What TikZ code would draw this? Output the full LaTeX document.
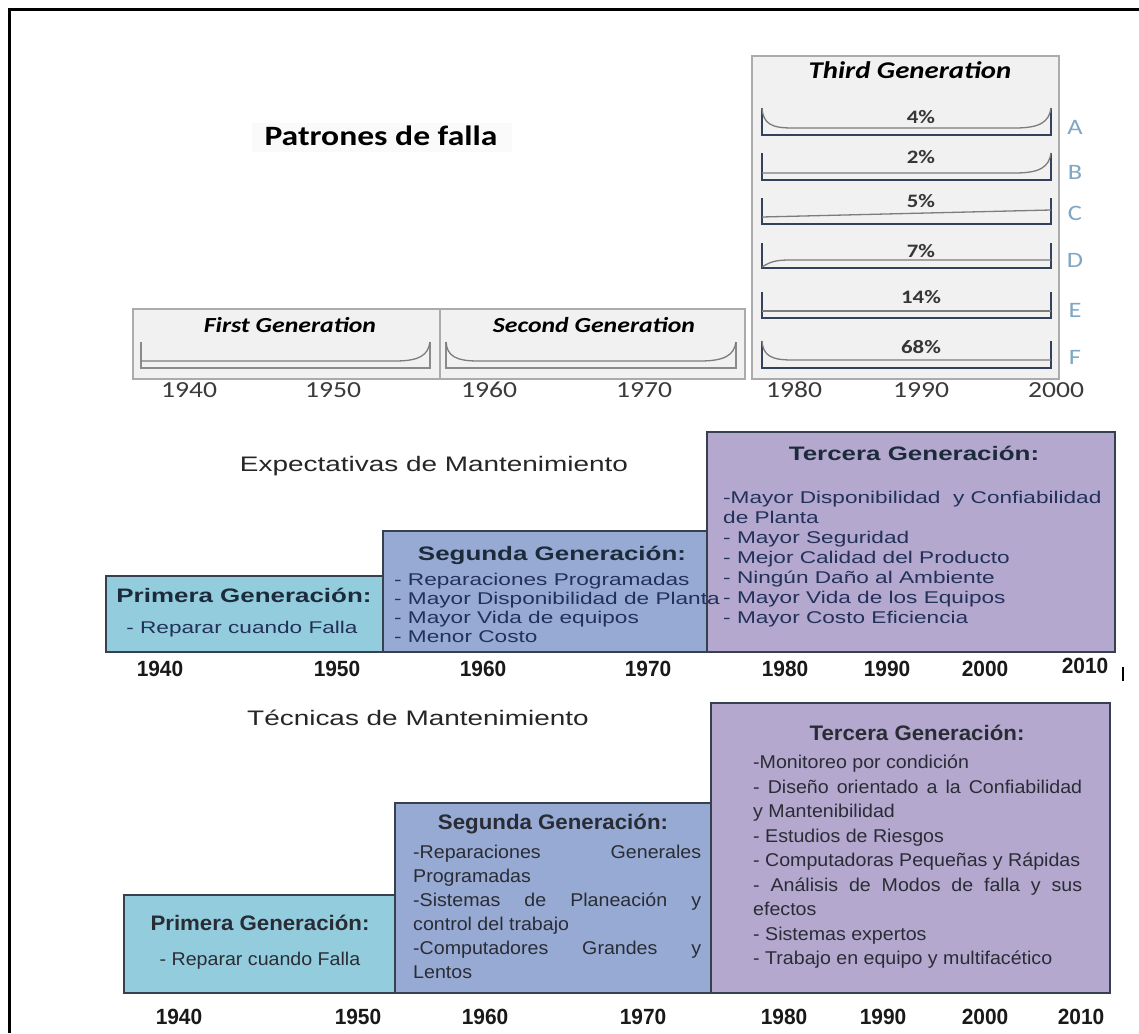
\documentclass[tikz,border=0pt]{standalone}
\usepackage{fontspec}
% Type faces: Carlito for the failure-pattern chart, Liberation Sans for the two slides
\newfontfamily\calF[FakeStretch=1.2]{Carlito}
\newfontfamily\midF[FakeStretch=1.33]{Liberation Sans}
\newfontfamily\lowF[FakeStretch=1.06]{Liberation Sans}
\newfontfamily\yrF[FakeStretch=0.95]{Liberation Sans}

\definecolor{topfill}{HTML}{F1F1F1}
\definecolor{topedge}{HTML}{ABABAB}
\definecolor{axiscol}{HTML}{34415C}
\definecolor{grayaxis}{HTML}{8A8A8A}
\definecolor{curvecol}{HTML}{7C7C7C}
\definecolor{pctcol}{HTML}{363636}
\definecolor{lettercol}{HTML}{7FA6C2}
\definecolor{yearcol}{HTML}{3A3A3A}
\definecolor{primfill}{HTML}{93CDDD}
\definecolor{segfill}{HTML}{97AAD3}
\definecolor{terfill}{HTML}{B4A8CF}
\definecolor{boxedge}{HTML}{36404E}
\definecolor{midtitle}{HTML}{1C2B3B}
\definecolor{miditem}{HTML}{22315A}
\definecolor{lowtext}{HTML}{2A2C35}

\tikzset{
  topbox/.style={draw=topedge, fill=topfill, line width=1.5pt},
  axisline/.style={draw=axiscol, line width=2.2pt},
  grayline/.style={draw=grayaxis, line width=2pt},
  patline/.style={draw=curvecol, line width=1.3pt},
  genbox/.style={draw=boxedge, line width=2.2pt},
  gentitle/.style={inner sep=0pt, font=\calF\fontsize{21.5}{24}\selectfont\bfseries\itshape},
  pct/.style={inner sep=0pt, text=pctcol, font=\calF\fontsize{19}{22}\selectfont\bfseries},
  rowletter/.style={inner sep=0pt, text=lettercol, font=\calF\fontsize{22}{24}\selectfont},
  topyear/.style={inner sep=0pt, text=yearcol, anchor=base, font=\calF\fontsize{23}{26}\selectfont},
  midhead/.style={inner sep=0pt, anchor=base, text=midtitle, font=\midF\fontsize{19.5}{22}\selectfont\bfseries},
  miditem/.style={inner sep=0pt, anchor=base west, text=miditem, font=\midF\fontsize{17}{20}\selectfont},
  lowhead/.style={inner sep=0pt, anchor=base, text=lowtext, font=\lowF\fontsize{21}{24}\selectfont\bfseries},
  lowitem/.style={inner sep=0pt, anchor=base west, text=lowtext, font=\lowF\fontsize{18.5}{22}\selectfont},
  secttitle/.style={inner sep=0pt, anchor=base, text=black!85, font=\midF\fontsize{21}{24}\selectfont},
  yearlbl/.style={inner sep=0pt, anchor=base, text=black!90, font=\yrF\fontsize{22}{24}\selectfont\bfseries}
}

\begin{document}
\begin{tikzpicture}[x=1pt,y=-1pt]
\useasboundingbox (0,0) rectangle (1139,1033);
\fill[white] (0,0) rectangle (1139,1033);

% outer frame (left and top edges)
\draw[line width=3pt] (9,1033) -- (9,10) -- (1139,10);

% ---------------- Patrones de falla ----------------
\fill[black!2] (252,123) rectangle (512,152);
\node[inner sep=0pt, anchor=base, font=\calF\fontsize{28}{30}\selectfont\bfseries] (pf) at (381,145) {Patrones de falla};

% first and second generation panels
\draw[topbox] (133,309) rectangle (440,379);
\draw[topbox] (440,309) rectangle (745,379);
\node[gentitle] (g1) at (290,325) {First Generation};
\node[gentitle] (g2) at (594,325) {Second Generation};

\draw[grayline] (141,342) -- (141,368) -- (430,368) -- (430,342);
\draw[patline] (141,361) -- (395,361) .. controls (420,361) and (428,355) .. (430,342);
\draw[grayline] (446,342) -- (446,368) -- (736,368) -- (736,342);
\draw[patline] (446,342) .. controls (447,356) and (456,361) .. (478,361) -- (700,361)
  .. controls (725,361) and (734,355) .. (736,342);

% third generation panel with the six patterns
\draw[topbox] (752,56) rectangle (1059,379);
\node[inner sep=0pt, font=\calF\fontsize{24}{26}\selectfont\bfseries\itshape] (g3) at (910,70) {Third Generation};

% A: bathtub
\draw[axisline] (762,108) -- (762,135) -- (1051,135) -- (1051,108);
\draw[patline] (762,108) .. controls (763,124) and (772,128) .. (792,128) -- (1015,128)
  .. controls (1040,128) and (1049,122) .. (1051,108);
% B: wear-out
\draw[axisline] (762,153) -- (762,180) -- (1051,180) -- (1051,153);
\draw[patline] (762,173) -- (1015,173) .. controls (1040,173) and (1049,167) .. (1051,153);
% C: slowly rising
\draw[axisline] (762,198) -- (762,224) -- (1051,224) -- (1051,198);
\draw[patline] (762,217) -- (1051,210);
% D: low when new, then constant
\draw[axisline] (762,243) -- (762,268) -- (1051,268) -- (1051,243);
\draw[patline] (762,267) .. controls (770,262) and (775,260) .. (790,260) -- (1051,260);
% E: random
\draw[axisline] (762,292) -- (762,318) -- (1051,318) -- (1051,292);
\draw[patline] (762,311) -- (1051,311);
% F: infant mortality
\draw[axisline] (762,341) -- (762,368) -- (1051,368) -- (1051,341);
\draw[patline] (762,341) .. controls (763,356) and (772,360) .. (792,360) -- (1051,360);

\foreach \yy/\pp [count=\i] in {117/4\%, 157/2\%, 201/5\%, 251/7\%, 297/14\%, 347/68\%}{
  \node[pct] (pc\i) at (921,\yy) {\pp};
}
\foreach \yy/\ll [count=\i] in {127/A, 172/B, 213/C, 260/D, 310/E, 357/F}{
  \node[rowletter] (rl\i) at (1075,\yy) {\ll};
}

\foreach \xx/\yr [count=\i] in {189/1940, 333/1950, 489/1960, 644/1970, 794/1980, 921/1990, 1056/2000}{
  \node[topyear] (ty\i) at (\xx,397) {\yr};
}

% ---------------- Expectativas de Mantenimiento ----------------
\node[secttitle] (exp) at (434,471) {Expectativas de Mantenimiento};

\draw[genbox, fill=terfill] (707,432) rectangle (1115,652);
\draw[genbox, fill=segfill] (383,531) rectangle (707,652);
\draw[genbox, fill=primfill] (106,576) rectangle (383,652);

\node[midhead] (mp) at (244,602) {Primera Generación:};
\node[miditem, anchor=base] (mpi) at (242,633) {- Reparar cuando Falla};

\node[midhead] (ms) at (552,560) {Segunda Generación:};
\foreach \yy/\tx [count=\i] in {585/{- Reparaciones Programadas}, 604/{- Mayor Disponibilidad de Planta},
    623/{- Mayor Vida de equipos}, 642/{- Menor Costo}}{
  \node[miditem] (msi\i) at (394,\yy) {\tx};
}

\node[midhead] (mt) at (914,460) {Tercera Generación:};
\foreach \yy/\tx [count=\i] in {503/{-Mayor Disponibilidad\ \ y Confiabilidad}, 523/{de Planta},
    543/{- Mayor Seguridad}, 563/{- Mejor Calidad del Producto}, 583/{- Ningún Daño al Ambiente},
    603/{- Mayor Vida de los Equipos}, 623/{- Mayor Costo Eficiencia}}{
  \node[miditem] (mti\i) at (723,\yy) {\tx};
}

\foreach \xx/\yr [count=\i] in {160/1940, 337/1950, 483/1960, 648/1970, 785/1980, 887/1990, 985/2000}{
  \node[yearlbl] (my\i) at (\xx,676) {\yr};
}
\node[yearlbl] (my8) at (1085,673) {2010};
\draw[line width=2pt] (1123,667) -- (1123,681);

% ---------------- Técnicas de Mantenimiento ----------------
\node[secttitle, font=\midF\fontsize{21}{24}\selectfont] (tec) at (418,725) {Técnicas de Mantenimiento};

\draw[genbox, fill=terfill] (711,703) rectangle (1110,993);
\draw[genbox, fill=segfill] (395,803) rectangle (711,993);
\draw[genbox, fill=primfill] (124,895) rectangle (395,993);

\node[lowhead] (lp) at (260,930) {Primera Generación:};
\node[lowitem, anchor=base] (lpi) at (260,965) {- Reparar cuando Falla};

\node[lowhead] (ls) at (553,829) {Segunda Generación:};
\foreach \yy/\tx [count=\i] in {858.7/{\makebox[288pt][s]{-Reparaciones Generales}}, 882.7/{Programadas},
    906.7/{\makebox[288pt][s]{-Sistemas de Planeación y}}, 930.7/{control del trabajo},
    954.7/{\makebox[288pt][s]{-Computadores Grandes y}}, 978.7/{Lentos}}{
  \node[lowitem] (lsi\i) at (413,\yy) {\tx};
}

\node[lowhead] (lt) at (917,740) {Tercera Generación:};
\foreach \yy/\tx [count=\i] in {768.7/{-Monitoreo por condición},
    793.2/{\makebox[329pt][s]{- Diseño orientado a la Confiabilidad}},
    817.7/{y Mantenibilidad}, 842.2/{- Estudios de Riesgos},
    866.7/{- Computadoras Pequeñas y Rápidas},
    891.2/{\makebox[329pt][s]{- Análisis de Modos de falla y sus}},
    915.7/{efectos}, 940.2/{- Sistemas expertos}, 964.7/{- Trabajo en equipo y multifacético}}{
  \node[lowitem] (lti\i) at (753,\yy) {\tx};
}

\foreach \xx/\yr [count=\i] in {179/1940, 358/1950, 485/1960, 643/1970, 784/1980, 883/1990, 985/2000, 1081/2010}{
  \node[yearlbl] (ly\i) at (\xx,1024) {\yr};
}
\end{tikzpicture}
\end{document}
